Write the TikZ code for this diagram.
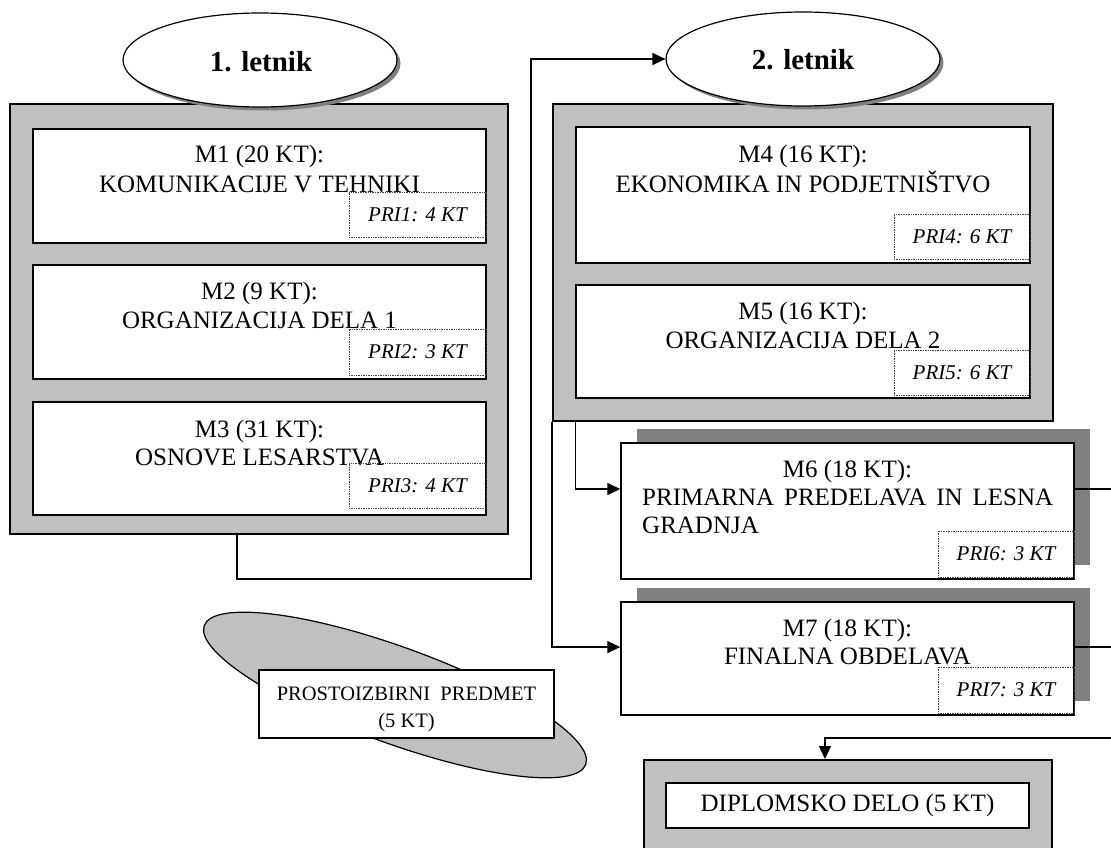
\documentclass[tikz,border=0pt]{standalone}
\usepackage{fontspec}
\setmainfont{Liberation Serif}
\usetikzlibrary{arrows.meta,calc,shapes.geometric,shadows}
\definecolor{panelgray}{HTML}{C0C0C0}
\definecolor{shadowgray}{HTML}{808080}
\begin{document}
\begin{tikzpicture}[x=1pt,y=-1pt,
  panel/.style={draw=black,line width=2pt,fill=panelgray,inner sep=0pt},
  modbox/.style={draw=black,line width=1.5pt,fill=white,inner sep=0pt},
  shadowbox/.style={modbox,drop shadow={shadow xshift=16pt,shadow yshift=14pt,fill=shadowgray,opacity=1}},
  pribox/.style={draw=black!75,densely dotted,line width=0.7pt,inner sep=0pt,font=\fontsize{21}{24}\selectfont\itshape},
  ln/.style={anchor=base,inner sep=0pt,font=\fontsize{25}{29}\selectfont},
  yearell/.style={ellipse,draw=black,line width=1.2pt,fill=white,inner sep=0pt,
    minimum width=274pt,minimum height=94pt,
    drop shadow={shadow xshift=3.5pt,shadow yshift=-3.5pt,fill=shadowgray,opacity=1}},
  yeartext/.style={anchor=base,inner sep=0pt,font=\fontsize{29}{32}\selectfont\bfseries},
  conn/.style={draw=black,line width=1.5pt},
  arr/.style={conn,-{Triangle[length=13pt,width=12pt]}}
]
\useasboundingbox (0,0) rectangle (1111,848);
\clip (0,0) rectangle (1111,848);
\fill[white] (0,0) rectangle (1111,848);

% ---------- 1. letnik ----------
\node[panel,minimum width=498pt,minimum height=430pt] (y1) at (259,319) {};
\node[modbox,minimum width=453pt,minimum height=114pt] (m1) at (259.5,186) {};
\node[modbox,minimum width=453pt,minimum height=114pt] (m2) at (259.5,322) {};
\node[modbox,minimum width=453pt,minimum height=113pt] (m3) at (259.5,458.5) {};
\node[ln] (m1a) at (259.5,163) {M1 (20 KT):};
\node[ln] (m1b) at (259.5,192) {KOMUNIKACIJE V TEHNIKI};
\node[ln] (m2a) at (259.5,299) {M2 (9 KT):};
\node[ln] (m2b) at (259.5,328) {ORGANIZACIJA DELA 1};
\node[ln] (m3a) at (259.5,437) {M3 (31 KT):};
\node[ln] (m3b) at (259.5,465) {OSNOVE LESARSTVA};
\node[pribox,minimum width=137pt,minimum height=45pt] (p1) at (417.5,214.5) {PRI1: 4 KT};
\node[pribox,minimum width=137pt,minimum height=46pt] (p2) at (417.5,352) {PRI2: 3 KT};
\node[pribox,minimum width=137pt,minimum height=45pt] (p3) at (417.5,485.5) {PRI3: 4 KT};
\node[yearell] (e1) at (260,60) {};
\node[yeartext] (e1t) at (261,72) {1. letnik};

% ---------- 2. letnik ----------
\node[panel,minimum width=500pt,minimum height=317pt] (y2) at (803,262.5) {};
\node[modbox,minimum width=454pt,minimum height=136pt] (m4) at (803,195) {};
\node[modbox,minimum width=454pt,minimum height=113pt] (m5) at (803,341.5) {};
\node[ln] (m4a) at (803,163) {M4 (16 KT):};
\node[ln] (m4b) at (803,192) {EKONOMIKA IN PODJETNIŠTVO};
\node[ln] (m5a) at (803,319) {M5 (16 KT):};
\node[ln] (m5b) at (803,348) {ORGANIZACIJA DELA 2};
\node[pribox,minimum width=136pt,minimum height=45pt] (p4) at (962,236.5) {PRI4: 6 KT};
\node[pribox,minimum width=136pt,minimum height=45pt] (p5) at (962,372.5) {PRI5: 6 KT};
\node[yearell] (e2) at (803,59) {};
\node[yeartext] (e2t) at (803,70) {2. letnik};

% ---------- M6, M7 ----------
\node[shadowbox,minimum width=453pt,minimum height=136pt] (m6) at (847.5,511) {};
\node[ln] (m6a) at (847.5,477) {M6 (18 KT):};
\node[ln,anchor=base west] (m6b) at (642,505) {\makebox[411pt][s]{PRIMARNA PREDELAVA IN LESNA}};
\node[ln,anchor=base west] (m6c) at (642,533) {GRADNJA};
\node[pribox,minimum width=136pt,minimum height=46pt] (p6) at (1006,554) {PRI6: 3 KT};

\node[shadowbox,minimum width=453pt,minimum height=113pt] (m7) at (847.5,658.5) {};
\node[ln] (m7a) at (847.5,636) {M7 (18 KT):};
\node[ln] (m7b) at (847.5,664) {FINALNA OBDELAVA};
\node[pribox,minimum width=136pt,minimum height=46pt] (p7) at (1006,690) {PRI7: 3 KT};

% ---------- prostoizbirni ----------
\node[ellipse,draw=black,line width=1.2pt,fill=panelgray,inner sep=0pt,
  minimum width=406pt,minimum height=96pt,rotate=-20] (pe) at (395,695) {};
\node[modbox,line width=1.2pt,minimum width=295pt,minimum height=68pt] (pr) at (406.5,704) {};
\node[ln,font=\fontsize{20.5}{27}\selectfont] (pra) at (406.5,700) {PROSTOIZBIRNI\ \ PREDMET};
\node[ln,font=\fontsize{20.5}{27}\selectfont] (prb) at (406.5,727) {(5 KT)};

% ---------- diplomsko delo ----------
\node[panel,minimum width=408pt,minimum height=120pt] (dp) at (848,820) {};
\node[modbox,minimum width=363pt,minimum height=45pt,font=\fontsize{25}{29}\selectfont] (dd) at (847.5,805.5) {DIPLOMSKO DELO (5 KT)};

% ---------- connectors ----------
\coordinate (c1a) at (237,579);
\coordinate (c1b) at (531,579);
\draw[arr] (y1.south -| c1a) -- (c1a) -- (c1b) -- (c1b |- e2.west) -- (e2.west);
\draw[arr] (y2.south -| m4.west) |- ($(m6.north west)!0.34!(m6.south west)$);
\draw[arr] (y2.south west) |- ($(m7.north west)!0.4!(m7.south west)$);
\coordinate (rx) at (1125,738);
\coordinate (dx) at (825,738);
\draw[conn] ($(m6.north east)!0.34!(m6.south east)$) -| (rx);
\draw[conn] ($(m7.north east)!0.4!(m7.south east)$) -| (rx);
\draw[arr] (rx) -- (dx) -- (dx |- dp.north);
\end{tikzpicture}
\end{document}
